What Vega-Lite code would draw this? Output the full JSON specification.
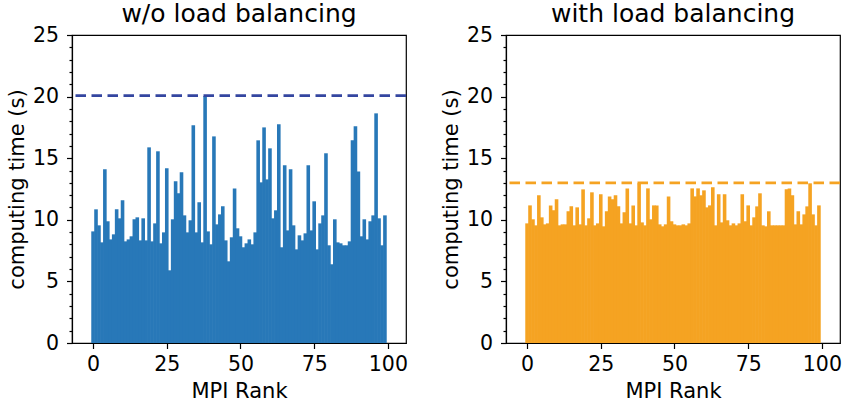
{
  "$schema": "https://vega.github.io/schema/vega-lite/v6.json",
  "background": "white",
  "padding": {"left": 5, "top": 0, "right": 5, "bottom": 0},
  "spacing": 30,
  "config": {
    "font": "DejaVu Sans",
    "view": {"stroke": "black", "strokeWidth": 1.2},
    "axis": {
      "grid": false,
      "domainColor": "black",
      "domainWidth": 1.2,
      "tickColor": "black",
      "tickWidth": 1.2,
      "labelColor": "black",
      "titleColor": "black",
      "labelFont": "DejaVu Sans",
      "titleFont": "DejaVu Sans",
      "labelFontSize": 20.5,
      "titleFontSize": 21,
      "titleFontWeight": "normal",
      "labelFlush": false,
      "labelOverlap": false
    },
    "title": {"font": "DejaVu Sans", "fontSize": 25, "fontWeight": "normal", "color": "black", "offset": -1.5}
  },
  "datasets": {
    "without": [
      {"r":0,"t":9.06},{"r":1,"t":10.85},{"r":2,"t":9.55},{"r":3,"t":8.17},{"r":4,"t":14.1},{"r":5,"t":9.88},{"r":6,"t":8.41},{"r":7,"t":8.82},{"r":8,"t":10.85},{"r":9,"t":10.12},
      {"r":10,"t":11.58},{"r":11,"t":8.25},{"r":12,"t":8.41},{"r":13,"t":8.66},{"r":14,"t":10.04},{"r":15,"t":10.2},{"r":16,"t":8.33},{"r":17,"t":10.12},{"r":18,"t":8.33},{"r":19,"t":15.88},
      {"r":20,"t":8.25},{"r":21,"t":9.71},{"r":22,"t":15.56},{"r":23,"t":8.09},{"r":24,"t":8.98},{"r":25,"t":14.18},{"r":26,"t":5.9},{"r":27,"t":10.04},{"r":28,"t":13.12},{"r":29,"t":12.15},
      {"r":30,"t":13.85},{"r":31,"t":10.36},{"r":32,"t":8.98},{"r":33,"t":9.96},{"r":34,"t":17.67},{"r":35,"t":8.98},{"r":36,"t":11.42},{"r":37,"t":8.17},{"r":38,"t":20.05},{"r":39,"t":9.06},
      {"r":40,"t":8.01},{"r":41,"t":16.77},{"r":42,"t":9.63},{"r":43,"t":10.44},{"r":44,"t":11.09},{"r":45,"t":8.33},{"r":46,"t":6.63},{"r":47,"t":8.58},{"r":48,"t":12.55},{"r":49,"t":9.31},
      {"r":50,"t":8.66},{"r":51,"t":7.77},{"r":52,"t":8.09},{"r":53,"t":8.41},{"r":54,"t":8.01},{"r":55,"t":8.98},{"r":56,"t":16.45},{"r":57,"t":13.04},{"r":58,"t":17.5},{"r":59,"t":13.28},
      {"r":60,"t":15.8},{"r":61,"t":10.12},{"r":62,"t":10.77},{"r":63,"t":17.75},{"r":64,"t":7.77},{"r":65,"t":14.42},{"r":66,"t":9.14},{"r":67,"t":14.1},{"r":68,"t":9.55},{"r":69,"t":7.6},
      {"r":70,"t":8.74},{"r":71,"t":8.33},{"r":72,"t":8.9},{"r":73,"t":14.42},{"r":74,"t":9.14},{"r":75,"t":11.5},{"r":76,"t":7.6},{"r":77,"t":9.71},{"r":78,"t":10.36},{"r":79,"t":15.4},
      {"r":80,"t":7.93},{"r":81,"t":6.39},{"r":82,"t":10.04},{"r":83,"t":8.17},{"r":84,"t":8.09},{"r":85,"t":7.93},{"r":86,"t":7.93},{"r":87,"t":8.25},{"r":88,"t":16.45},{"r":89,"t":17.59},
      {"r":90,"t":13.93},{"r":91,"t":8.66},{"r":92,"t":10.04},{"r":93,"t":8.41},{"r":94,"t":9.88},{"r":95,"t":10.36},{"r":96,"t":18.64},{"r":97,"t":10.12},{"r":98,"t":7.93},{"r":99,"t":10.36}
    ],
    "with": [
      {"r":0,"t":9.71},{"r":1,"t":11.17},{"r":2,"t":10.04},{"r":3,"t":9.55},{"r":4,"t":11.99},{"r":5,"t":10.2},{"r":6,"t":9.63},{"r":7,"t":9.71},{"r":8,"t":11.17},{"r":9,"t":10.77},
      {"r":10,"t":11.66},{"r":11,"t":9.55},{"r":12,"t":9.63},{"r":13,"t":9.63},{"r":14,"t":10.69},{"r":15,"t":11.09},{"r":16,"t":9.55},{"r":17,"t":11.01},{"r":18,"t":9.63},{"r":19,"t":12.47},
      {"r":20,"t":9.55},{"r":21,"t":10.12},{"r":22,"t":12.23},{"r":23,"t":9.55},{"r":24,"t":9.71},{"r":25,"t":12.07},{"r":26,"t":9.47},{"r":27,"t":10.69},{"r":28,"t":11.9},{"r":29,"t":11.66},
      {"r":30,"t":11.99},{"r":31,"t":11.09},{"r":32,"t":9.71},{"r":33,"t":10.61},{"r":34,"t":12.55},{"r":35,"t":9.71},{"r":36,"t":11.17},{"r":37,"t":9.55},{"r":38,"t":12.96},{"r":39,"t":9.79},
      {"r":40,"t":9.55},{"r":41,"t":12.55},{"r":42,"t":10.04},{"r":43,"t":11.17},{"r":44,"t":11.17},{"r":45,"t":9.63},{"r":46,"t":9.47},{"r":47,"t":9.63},{"r":48,"t":11.9},{"r":49,"t":9.88},
      {"r":50,"t":9.63},{"r":51,"t":9.55},{"r":52,"t":9.55},{"r":53,"t":9.63},{"r":54,"t":9.55},{"r":55,"t":9.71},{"r":56,"t":12.55},{"r":57,"t":11.9},{"r":58,"t":12.55},{"r":59,"t":11.99},
      {"r":60,"t":12.39},{"r":61,"t":11.01},{"r":62,"t":11.17},{"r":63,"t":12.64},{"r":64,"t":9.55},{"r":65,"t":12.07},{"r":66,"t":9.79},{"r":67,"t":12.07},{"r":68,"t":9.96},{"r":69,"t":9.55},
      {"r":70,"t":9.71},{"r":71,"t":9.55},{"r":72,"t":9.71},{"r":73,"t":12.07},{"r":74,"t":9.88},{"r":75,"t":11.17},{"r":76,"t":9.55},{"r":77,"t":10.2},{"r":78,"t":11.09},{"r":79,"t":12.15},
      {"r":80,"t":9.55},{"r":81,"t":9.47},{"r":82,"t":10.69},{"r":83,"t":9.55},{"r":84,"t":9.55},{"r":85,"t":9.55},{"r":86,"t":9.55},{"r":87,"t":9.55},{"r":88,"t":12.47},{"r":89,"t":12.55},
      {"r":90,"t":11.99},{"r":91,"t":9.63},{"r":92,"t":10.69},{"r":93,"t":9.63},{"r":94,"t":10.44},{"r":95,"t":11.09},{"r":96,"t":12.96},{"r":97,"t":10.44},{"r":98,"t":9.55},{"r":99,"t":11.17}
    ],
    "maxWithout": [{"m": 20.08}],
    "maxWith": [{"m": 13.0}]
  },
  "hconcat": [
    {
      "width": 334,
      "height": 308,
      "title": "w/o load balancing",
      "resolve": {"axis": {"y": "independent"}},
      "layer": [
        {
          "data": {"name": "without"},
          "mark": {"type": "bar", "width": 3.6, "color": "#2878b8"},
          "encoding": {
            "x": {"field": "r", "type": "quantitative", "title": "MPI Rank",
              "scale": {"domain": [-5.45, 104.45], "nice": false, "zero": false},
              "axis": {"values": [0, 25, 50, 75, 100], "tickSize": 5.5, "labelPadding": 6, "titlePadding": 5}},
            "y": {"field": "t", "type": "quantitative", "title": "computing time (s)",
              "scale": {"domain": [0, 25], "nice": false},
              "axis": {"values": [0, 5, 10, 15, 20, 25], "orient": "left", "tickSize": 5.5, "labelPadding": 8, "titlePadding": 5}}
          }
        },
        {
          "data": {"name": "maxWithout"},
          "mark": {"type": "rule", "color": "#3446a0", "strokeWidth": 2.7, "strokeDash": [10.5, 5.5]},
          "encoding": {"y": {"field": "m", "type": "quantitative",
            "axis": {"orient": "left", "values": [1,2,3,4,6,7,8,9,11,12,13,14,16,17,18,19,21,22,23,24], "labels": false, "domain": false, "tickSize": 3, "title": null}}}
        }
      ]
    },
    {
      "width": 334,
      "height": 308,
      "title": "with load balancing",
      "resolve": {"axis": {"y": "independent"}},
      "layer": [
        {
          "data": {"name": "with"},
          "mark": {"type": "bar", "width": 3.6, "color": "#f5a322"},
          "encoding": {
            "x": {"field": "r", "type": "quantitative", "title": "MPI Rank",
              "scale": {"domain": [-5.45, 104.45], "nice": false, "zero": false},
              "axis": {"values": [0, 25, 50, 75, 100], "tickSize": 5.5, "labelPadding": 6, "titlePadding": 5}},
            "y": {"field": "t", "type": "quantitative", "title": "computing time (s)",
              "scale": {"domain": [0, 25], "nice": false},
              "axis": {"values": [0, 5, 10, 15, 20, 25], "orient": "left", "tickSize": 5.5, "labelPadding": 8, "titlePadding": 5}}
          }
        },
        {
          "data": {"name": "maxWith"},
          "mark": {"type": "rule", "color": "#f5a322", "strokeWidth": 2.7, "strokeDash": [10.5, 5.5]},
          "encoding": {"y": {"field": "m", "type": "quantitative",
            "axis": {"orient": "left", "values": [1,2,3,4,6,7,8,9,11,12,13,14,16,17,18,19,21,22,23,24], "labels": false, "domain": false, "tickSize": 3, "title": null}}}
        }
      ]
    }
  ]
}
